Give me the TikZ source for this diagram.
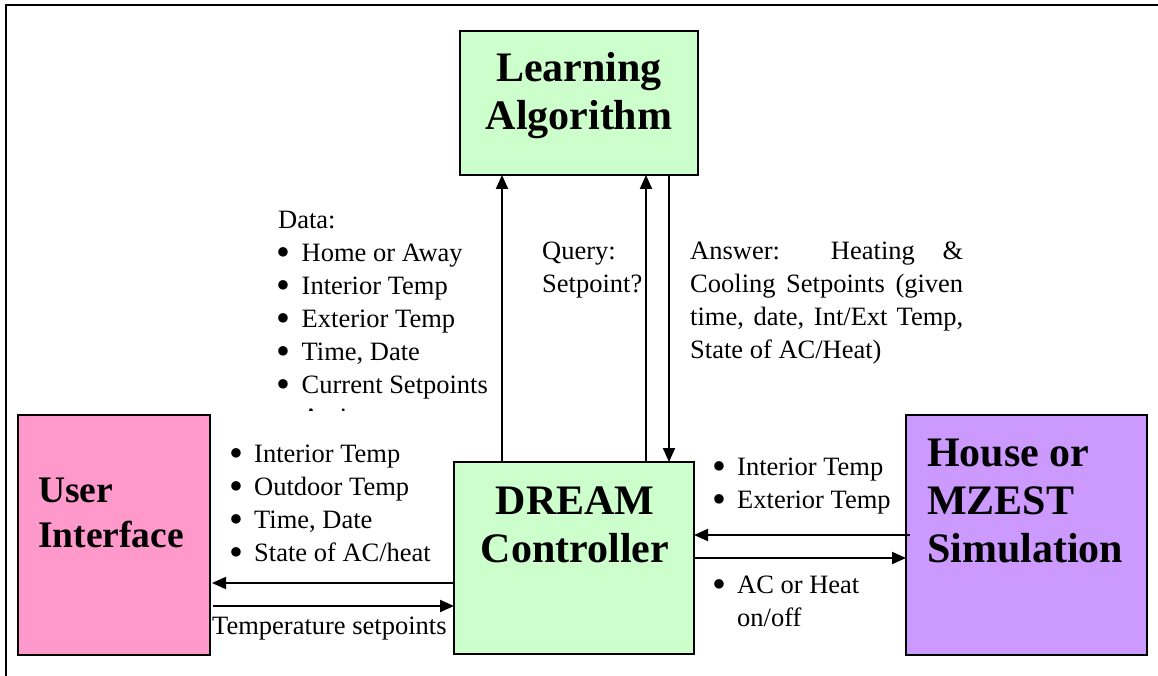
\documentclass[tikz,border=0pt]{standalone}
\usepackage{fontspec}
\setmainfont{Liberation Serif}
\usetikzlibrary{arrows.meta}
\definecolor{uipink}{HTML}{FF99CC}
\definecolor{algogreen}{HTML}{CCFFCC}
\definecolor{simpurple}{HTML}{CC99FF}
% bulleted line: optional width of the bullet column, then the text
\newcommand\lstbullet{\hspace*{-2.4pt}\smash{\raisebox{-4.5pt}{\scalebox{1.5}{\textbullet}}}}
\newcommand\lstitem[2][22.5pt]{\makebox[#1][l]{\lstbullet}#2}
\begin{document}
\begin{tikzpicture}[x=1pt,y=-1pt,
  box/.style={draw,line width=2pt,inner sep=0pt,outer sep=0pt,anchor=north west},
  title/.style={font=\fontsize{42}{48}\selectfont\bfseries,inner sep=0pt,anchor=base,align=center},
  ltitle/.style={title,anchor=base west,align=left},
  lbl/.style={font=\fontsize{26.5}{33}\selectfont,inner sep=0pt,anchor=base west,align=left},
  arr/.style={line width=2pt,-{Triangle[length=14pt,width=12pt]}}]
\useasboundingbox (0,0) rectangle (1158,676);

% outer frame (top and left edges)
\draw[line width=2pt] (6,676) -- (6,5) -- (1158,5);

% blocks
\node[box,fill=algogreen,minimum width=238pt,minimum height=144pt] (la) at (460,31) {};
\node[box,fill=uipink,minimum width=192pt,minimum height=240pt] (ui) at (18,415) {};
\node[box,fill=algogreen,minimum width=240pt,minimum height=192pt] (dc) at (454,462) {};
\node[box,fill=simpurple,minimum width=241pt,minimum height=240pt] (hs) at (906,415) {};

% block titles (anchored at the baseline of their last line)
\node[title] (lat) at (579,130) {Learning\\Algorithm};
\node[ltitle,font=\fontsize{37.5}{45}\selectfont\bfseries] (uit) at (38,547) {User\\Interface};
\node[title] (dct) at (575,562) {DREAM\\Controller};
\node[ltitle] (hst) at (927,562) {House or\\MZEST\\Simulation};

% connector positions
\coordinate (xd) at (502,0);
\coordinate (xq) at (646,0);
\coordinate (xa) at (669,0);
\coordinate (yl) at (0,583);
\coordinate (yr) at (0,606);
\coordinate (yin) at (0,535);
\coordinate (yout) at (0,558);

% connectors
\draw[arr] (xd |- dc.north) -- (xd |- la.south);
\draw[arr] (xq |- dc.north) -- (xq |- la.south);
\draw[arr] (xa |- la.south) -- (xa |- dc.north);
\draw[arr,shorten >=2pt] (yl -| dc.west) -- (yl -| ui.east);
\draw[arr,shorten <=3pt] (yr -| ui.east) -- (yr -| dc.west);
\draw[arr,shorten <=-4pt] (yin -| hs.west) -- (yin -| dc.east);
\draw[arr] (yout -| dc.east) -- (yout -| hs.west);

% labels (anchored at the baseline of their last line)
\node[lbl] (data) at (279,393) {\hspace*{-1pt}Data:\\
  \lstitem{Home or Away}\\
  \lstitem{Interior Temp}\\
  \lstitem{Exterior Temp}\\
  \lstitem{Time, Date}\\
  \lstitem{Current Setpoints}};
% the list runs on past the bottom of its text frame
\begin{scope}
  \clip (270,398) rectangle (520,410);
  \node[lbl] (more) at (279,426) {\lstitem{Actions}};
\end{scope}

\node[lbl] (query) at (542,292) {Query:\\Setpoint?};

\node[lbl] (answer) at (690,358) {\makebox[273pt][s]{Answer: Heating \&}\\
  \makebox[273pt][s]{Cooling Setpoints (given}\\
  \makebox[273pt][s]{time, date, Int/Ext Temp,}\\
  State of AC/Heat)};

\node[lbl] (uil) at (232,561) {\lstitem[22pt]{Interior Temp}\\
  \lstitem[22pt]{Outdoor Temp}\\
  \lstitem[22pt]{Time, Date}\\
  \lstitem[22pt]{State of AC/heat}};

\node[lbl] (tsp) at (212,634) {Temperature setpoints};

\node[lbl] (hsl) at (714.5,508) {\lstitem{Interior Temp}\\
  \lstitem{Exterior Temp}};

\node[lbl] (acl) at (714.5,626) {\lstitem{AC or Heat}\\
  \hspace*{22.5pt}on/off};
\end{tikzpicture}
\end{document}
